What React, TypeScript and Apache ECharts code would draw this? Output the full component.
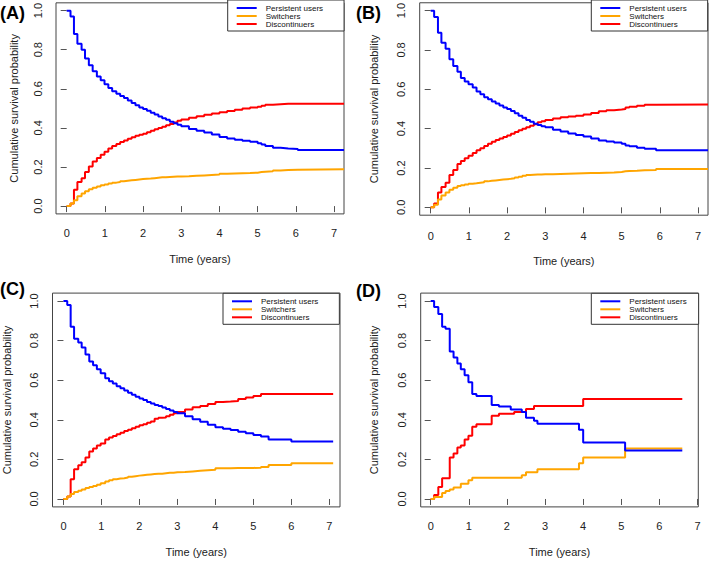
import React, { useEffect, useRef } from "react";
import * as echarts from "echarts";

// ---------------- data ----------------
const seriesNames = ["Persistent users", "Switchers", "Discontinuers"];
const xTicks = [0, 1, 2, 3, 4, 5, 6, 7];
const yTicks = [0, 0.2, 0.4, 0.6, 0.8, 1.0];
const panelLabels = ["(A)", "(B)", "(C)", "(D)"];
const xTitle = "Time (years)";
const yTitle = "Cumulative survival probability";

// Panel A
const timesA = [0, 0.1, 0.19, 0.28, 0.39, 0.48, 0.58, 0.68, 0.79, 0.89, 0.99, 1.09, 1.19, 1.3, 1.4, 1.5, 1.6, 1.7, 1.8, 1.9, 2.0, 2.1, 2.2, 2.3, 2.4, 2.5, 2.6, 2.7, 2.8, 2.9, 3.0, 3.2, 3.4, 3.6, 3.8, 4.0, 4.2, 4.4, 4.6, 4.8, 5.0, 5.1, 5.2, 5.4, 5.6, 5.8, 6.05, 7.26];
const persistentA = [1.0, 0.97, 0.88, 0.83, 0.8, 0.755, 0.72, 0.69, 0.663, 0.644, 0.624, 0.604, 0.587, 0.575, 0.563, 0.553, 0.54, 0.528, 0.516, 0.505, 0.497, 0.488, 0.478, 0.468, 0.458, 0.45, 0.442, 0.432, 0.424, 0.416, 0.408, 0.395, 0.385, 0.376, 0.366, 0.354, 0.346, 0.34, 0.334, 0.329, 0.322, 0.315, 0.307, 0.298, 0.295, 0.292, 0.287, 0.287];
const switchersA = [0, 0.013, 0.03, 0.05, 0.064, 0.076, 0.086, 0.094, 0.1, 0.106, 0.111, 0.116, 0.12, 0.123, 0.127, 0.13, 0.132, 0.134, 0.136, 0.138, 0.14, 0.141, 0.143, 0.145, 0.147, 0.148, 0.149, 0.15, 0.151, 0.152, 0.153, 0.155, 0.157, 0.159, 0.161, 0.165, 0.167, 0.168, 0.169, 0.171, 0.174, 0.176, 0.178, 0.182, 0.184, 0.186, 0.189, 0.189];
const discontinuersA = [0, 0.013, 0.084, 0.123, 0.143, 0.174, 0.202, 0.228, 0.246, 0.263, 0.278, 0.295, 0.307, 0.318, 0.328, 0.336, 0.344, 0.352, 0.36, 0.365, 0.37, 0.378, 0.386, 0.393, 0.4, 0.406, 0.413, 0.42, 0.428, 0.436, 0.443, 0.452, 0.46, 0.467, 0.474, 0.48, 0.487, 0.493, 0.499, 0.504, 0.508, 0.513, 0.518, 0.521, 0.524, 0.524, 0.524, 0.524];

// Panel B
const timesB = [0, 0.09, 0.19, 0.28, 0.39, 0.49, 0.59, 0.7, 0.79, 0.89, 0.99, 1.1, 1.2, 1.3, 1.4, 1.5, 1.6, 1.7, 1.8, 1.9, 2.0, 2.1, 2.2, 2.3, 2.4, 2.5, 2.6, 2.7, 2.8, 2.9, 3.0, 3.2, 3.4, 3.6, 3.8, 4.0, 4.2, 4.4, 4.6, 4.8, 5.0, 5.1, 5.2, 5.4, 5.6, 5.9, 7.26];
const persistentB = [1.0, 0.968, 0.887, 0.837, 0.806, 0.753, 0.719, 0.689, 0.657, 0.64, 0.626, 0.609, 0.589, 0.575, 0.56, 0.549, 0.538, 0.528, 0.518, 0.508, 0.5, 0.49, 0.478, 0.466, 0.455, 0.444, 0.435, 0.425, 0.418, 0.412, 0.407, 0.395, 0.385, 0.375, 0.368, 0.36, 0.35, 0.34, 0.335, 0.33, 0.323, 0.315, 0.31, 0.303, 0.298, 0.29, 0.29];
const switchersB = [0, 0.013, 0.04, 0.06, 0.075, 0.09, 0.1, 0.108, 0.112, 0.116, 0.12, 0.122, 0.125, 0.128, 0.132, 0.135, 0.137, 0.139, 0.141, 0.143, 0.145, 0.148, 0.152, 0.156, 0.161, 0.165, 0.166, 0.167, 0.167, 0.168, 0.168, 0.17, 0.171, 0.172, 0.173, 0.174, 0.175, 0.176, 0.177, 0.18, 0.183, 0.185, 0.186, 0.188, 0.19, 0.195, 0.195];
const discontinuersB = [0, 0.02, 0.075, 0.104, 0.125, 0.165, 0.19, 0.22, 0.236, 0.25, 0.262, 0.276, 0.29, 0.3, 0.312, 0.323, 0.333, 0.342, 0.35, 0.358, 0.365, 0.374, 0.383, 0.392, 0.4, 0.407, 0.415, 0.423, 0.432, 0.438, 0.444, 0.452, 0.458, 0.462, 0.466, 0.472, 0.48, 0.488, 0.494, 0.497, 0.5, 0.508, 0.512, 0.517, 0.522, 0.523, 0.523];

// Panel C
const timesC = [0, 0.1, 0.19, 0.28, 0.39, 0.48, 0.58, 0.68, 0.78, 0.88, 0.98, 1.1, 1.2, 1.3, 1.4, 1.5, 1.6, 1.7, 1.8, 1.9, 2.0, 2.1, 2.2, 2.3, 2.4, 2.5, 2.6, 2.7, 2.8, 2.9, 3.0, 3.2, 3.4, 3.6, 3.8, 4.0, 4.2, 4.4, 4.6, 4.8, 5.0, 5.2, 5.4, 6.0, 7.1];
const persistentC = [1.0, 0.98, 0.87, 0.81, 0.79, 0.765, 0.73, 0.695, 0.675, 0.655, 0.635, 0.61, 0.595, 0.583, 0.57, 0.559, 0.548, 0.537, 0.527, 0.517, 0.508, 0.5, 0.49, 0.482, 0.475, 0.47, 0.462, 0.455, 0.447, 0.44, 0.433, 0.418, 0.403, 0.39, 0.375, 0.362, 0.355, 0.348, 0.34, 0.332, 0.323, 0.315, 0.301, 0.29, 0.29];
const switchersC = [0, 0.013, 0.025, 0.035, 0.042, 0.048, 0.055, 0.06, 0.066, 0.072, 0.08, 0.088, 0.095, 0.1, 0.103, 0.105, 0.108, 0.112, 0.115, 0.118, 0.12, 0.122, 0.124, 0.126, 0.127, 0.128, 0.13, 0.132, 0.133, 0.135, 0.136, 0.139, 0.142, 0.145, 0.148, 0.155, 0.155, 0.156, 0.156, 0.157, 0.158, 0.162, 0.172, 0.18, 0.18];
const discontinuersC = [0, 0.013, 0.1, 0.15, 0.17, 0.185, 0.21, 0.24, 0.255, 0.27, 0.28, 0.3, 0.31, 0.318, 0.327, 0.335, 0.343, 0.35, 0.357, 0.365, 0.372, 0.378, 0.385, 0.392, 0.405, 0.41, 0.412, 0.418, 0.425, 0.433, 0.44, 0.452, 0.463, 0.47, 0.48, 0.49, 0.492, 0.495, 0.505, 0.513, 0.52, 0.53, 0.53, 0.53, 0.53];

// Panel D
const timesD = [0, 0.09, 0.2, 0.3, 0.39, 0.5, 0.6, 0.7, 0.79, 0.89, 0.99, 1.09, 1.2, 1.6, 1.79, 2.1, 2.19, 2.39, 2.5, 2.71, 2.8, 3.89, 4.0, 5.1, 6.6];
const persistentD = [1.0, 0.97, 0.935, 0.87, 0.86, 0.745, 0.715, 0.685, 0.655, 0.625, 0.59, 0.53, 0.52, 0.475, 0.467, 0.452, 0.452, 0.44, 0.41, 0.395, 0.38, 0.35, 0.285, 0.245, 0.245];
const switchersD = [0, 0.01, 0.01, 0.03, 0.04, 0.048, 0.058, 0.058, 0.077, 0.077, 0.095, 0.107, 0.107, 0.107, 0.107, 0.107, 0.107, 0.12, 0.135, 0.135, 0.15, 0.18, 0.21, 0.255, 0.255];
const discontinuersD = [0, 0.02, 0.06, 0.105, 0.105, 0.21, 0.23, 0.26, 0.27, 0.3, 0.32, 0.365, 0.378, 0.42, 0.43, 0.43, 0.44, 0.44, 0.455, 0.47, 0.47, 0.47, 0.505, 0.505, 0.505];

const panelData = [
  { times: timesA, values: [persistentA, switchersA, discontinuersA] },
  { times: timesB, values: [persistentB, switchersB, discontinuersB] },
  { times: timesC, values: [persistentC, switchersC, discontinuersC] },
  { times: timesD, values: [persistentD, switchersD, discontinuersD] },
];

// ---------------- layout / styles ----------------
const colors = ["#0000FF", "#FFA500", "#FF0000"];
const FONT = "'Liberation Sans', Arial, Helvetica, sans-serif";

const layouts = [
  { left: 56, top: 0.4, width: 288, height: 213.5, xMin: -0.28, xMax: 7.26, yGap: 37, xGap: 40, xMargin: 14, legLeft: 227.7, legTop: 0, legPadR: 21, lblX: 0, lblY: 12.7 },
  { left: 419.7, top: 1.4, width: 288.3, height: 213.8, xMin: -0.288, xMax: 7.26, yGap: 40, xGap: 40, xMargin: 15, legLeft: 591.3, legTop: 0, legPadR: 21, lblX: 356, lblY: 13 },
  { left: 51, top: 293.1, width: 289, height: 213.8, xMin: -0.288, xMax: 7.28, yGap: 40.5, xGap: 40, xMargin: 14, legLeft: 223, legTop: 293.3, legPadR: 21, lblX: 0, lblY: 289 },
  { left: 420.7, top: 293.1, width: 277.6, height: 213.8, xMin: -0.262, xMax: 7.02, yGap: 41, xGap: 40, xMargin: 14, legLeft: 591.3, legTop: 293.3, legPadR: 12, lblX: 356, lblY: 291 },
];

function buildOption() {
  const grid: any[] = [];
  const xAxis: any[] = [];
  const yAxis: any[] = [];
  const series: any[] = [];
  const legend: any[] = [];
  const graphic: any[] = [];

  layouts.forEach((L, i) => {
    grid.push({
      left: L.left,
      top: L.top,
      width: L.width,
      height: L.height,
      show: true,
      borderColor: "#444",
      borderWidth: 1,
      backgroundColor: "transparent",
      containLabel: false,
    });
    xAxis.push({
      type: "value",
      gridIndex: i,
      min: L.xMin,
      max: L.xMax,
      axisLine: { show: false },
      splitLine: { show: false },
      axisTick: { show: true, customValues: xTicks, length: 6, inside: false, lineStyle: { color: "#555", width: 1 } },
      axisLabel: { customValues: xTicks, margin: L.xMargin, fontSize: 11, color: "#222", fontFamily: FONT, showMinLabel: true, showMaxLabel: true },
      name: xTitle,
      nameLocation: "middle",
      nameGap: L.xGap,
      nameMoveOverlap: false,
      nameTextStyle: { fontSize: 11, color: "#222", fontFamily: FONT },
    });
    yAxis.push({
      type: "value",
      gridIndex: i,
      min: -0.04,
      max: 1.04,
      axisLine: { show: false },
      splitLine: { show: false },
      axisTick: { show: true, customValues: yTicks, length: 6, inside: false, lineStyle: { color: "#555", width: 1 } },
      axisLabel: {
        customValues: yTicks,
        rotate: 90,
        align: "center",
        verticalAlign: "bottom",
        lineHeight: 11,
        margin: 13,
        fontSize: 11,
        color: "#222",
        fontFamily: FONT,
        formatter: (v: number) => v.toFixed(1),
      },
      name: yTitle,
      nameLocation: "middle",
      nameGap: L.yGap,
      nameRotate: 90,
      nameMoveOverlap: false,
      nameTextStyle: { fontSize: 11, color: "#222", fontFamily: FONT },
    });
    const P = panelData[i];
    seriesNames.forEach((name, k) => {
      series.push({
        name,
        type: "line",
        step: "end",
        xAxisIndex: i,
        yAxisIndex: i,
        showSymbol: false,
        symbol: "none",
        color: colors[k],
        itemStyle: { color: colors[k] },
        lineStyle: { color: colors[k], width: 2 },
        data: P.times.map((t, j) => [t, P.values[k][j]]),
        z: 3 - k,
      });
    });
    legend.push({
      data: seriesNames,
      orient: "vertical",
      left: L.legLeft,
      top: L.legTop,
      icon: "rect",
      itemWidth: 20,
      itemHeight: 2,
      itemGap: 0,
      padding: [4, L.legPadR, 3, 9],
      borderColor: "#333",
      borderWidth: 1,
      borderRadius: 0,
      backgroundColor: "#fff",
      selectedMode: false,
      textStyle: { fontSize: 8, lineHeight: 8, color: "#111", fontFamily: FONT, padding: [0, 0, 0, 4] },
    });
    graphic.push({
      type: "text",
      left: L.lblX,
      top: L.lblY - 9,
      style: { text: panelLabels[i], font: `bold 18px ${FONT}`, fill: "#000" },
    });
  });

  return { animation: false, backgroundColor: "#fff", grid, xAxis, yAxis, series, legend, graphic };
}

export default function App() {
  const ref = useRef<HTMLDivElement>(null);
  useEffect(() => {
    if (!ref.current) return;
    const chart = echarts.init(ref.current, null, { renderer: "svg" });
    chart.setOption(buildOption() as any);
    return () => chart.dispose();
  }, []);
  return <div ref={ref} style={{ position: "absolute", left: 0, top: 0, width: 709, height: 561 }} />;
}
